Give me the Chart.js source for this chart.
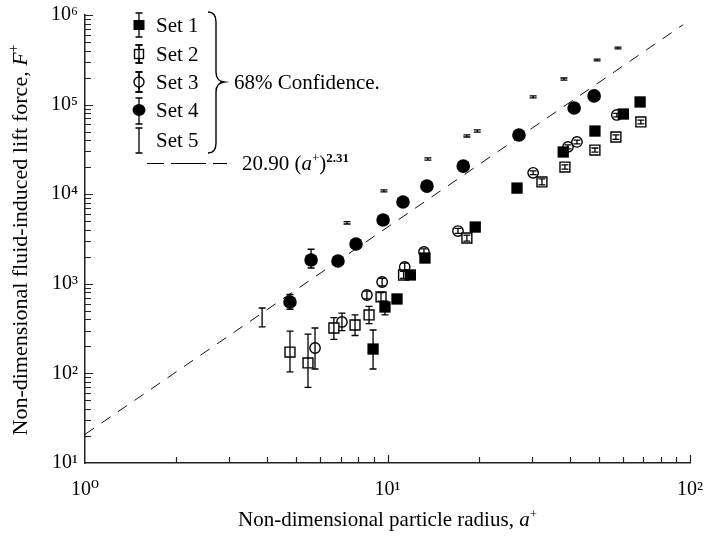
<!DOCTYPE html>
<html>
<head>
<meta charset="utf-8">
<script src="https://cdn.jsdelivr.net/npm/chart.js@4.4.1/dist/chart.umd.min.js"></script>
<style>
  html, body { margin: 0; padding: 0; background: #fff; }
  #wrap { width: 709px; height: 536px; }
</style>
</head>
<body>
<div id="wrap"><canvas id="chart-lift" width="709" height="536"></canvas></div>
<script>
// ── Data ─────────────────────────────────────────────────
// Set 1 — filled squares
const set1X  = [8.96, 9.81, 10.75, 11.9, 13.3, 19.5, 26.8, 38.1, 48.5, 60.2, 68.4];
const set1Y  = [187, 551, 677, 1254, 1940, 4300, 11700, 29600, 50700, 78500, 107000];
const set1Lo = [112, 449, 620, 1150, 1800, 4000, 11000, 28000, 48000, 75000, 102000];
const set1Hi = [305, 640, 740, 1380, 2100, 4600, 12400, 31000, 53000, 82000, 112000];

// Set 2 — open squares
const set2X  = [4.76, 5.46, 6.65, 7.81, 8.69, 9.52, 11.3, 18.3, 32.4, 38.6, 48.5, 56.9, 68.8];
const set2Y  = [173, 131, 321, 347, 449, 713, 1254, 3245, 13700, 20100, 31100, 43500, 64000];
const set2Lo = [104, 70, 240, 265, 360, 640, 1150, 3000, 12700, 19000, 29500, 41000, 61000];
const set2Hi = [297, 275, 420, 450, 560, 800, 1380, 3500, 14800, 21300, 32800, 46000, 67000];

// Set 3 — open circles
const set3X  = [5.76, 7.07, 8.55, 9.6, 11.4, 13.2, 17.1, 30.3, 39.5, 42.3, 57.3];
const set3Y  = [192, 375, 750, 1048, 1540, 2265, 3880, 17300, 33700, 38300, 76600];
const set3Lo = [112, 300, 680, 950, 1400, 2100, 3650, 16500, 32000, 36500, 73000];
const set3Hi = [321, 470, 830, 1150, 1700, 2450, 4150, 18200, 35500, 40200, 80000];

// Set 4 — filled circles
const set4X  = [4.76, 5.59, 6.86, 7.87, 9.67, 11.25, 13.5, 17.8, 27.2, 41.4, 48.2];
const set4Y  = [627, 1845, 1795, 2780, 5150, 8180, 12300, 20600, 45800, 91600, 125000];
const set4Lo = [520, 1500, 1700, 2600, 4900, 7800, 11800, 19800, 44000, 88000, 120000];
const set4Hi = [760, 2430, 1900, 2950, 5400, 8600, 12800, 21500, 47800, 95000, 130000];

// Set 5 — error bar only
const set5X  = [3.85, 7.35, 9.73, 13.6, 18.3, 19.8, 30.3, 38.3, 49.3, 57.8];
const set5Y  = [427, 4790, 10900, 24700, 44700, 50700, 122000, 193000, 315000, 428000];
const set5Lo = [330, 4650, 10600, 24000, 43500, 49300, 119000, 188000, 308000, 418000];
const set5Hi = [537, 4930, 11200, 25400, 46000, 52100, 125000, 198000, 322000, 438000];

// Fit line 20.90 (a+)^2.31 — end points
const fitX = [1, 95];
const fitY = [20.9, 780000];

const SERIF = '"Liberation Serif", "DejaVu Serif", serif';
const FS = 21;
const SUP = ['\u2070', '\u00B9', '\u00B2', '\u00B3', '\u2074', '\u2075', '\u2076'];

function pts(xs, ys, lo, hi) {
  return xs.map((x, i) => ({ x: x, y: ys[i], lo: lo[i], hi: hi[i] }));
}

// ── Rich text helper (italic / superscript parts) ────────
function partFont(p, size) {
  const s = p.sup ? Math.round(size * 0.62) : size;
  return (p.i ? 'italic ' : '') + (p.b ? 'bold ' : '') + s + 'px ' + SERIF;
}
function drawRich(ctx, parts, x, y, size, align) {
  let w = 0;
  parts.forEach(p => { ctx.font = partFont(p, size); w += ctx.measureText(p.t).width; });
  let cx = align === 'center' ? x - w / 2 : x;
  ctx.textAlign = 'left';
  ctx.textBaseline = 'alphabetic';
  parts.forEach(p => {
    ctx.font = partFont(p, size);
    ctx.fillText(p.t, cx, y + (p.sup ? -size * 0.4 : 0));
    cx += ctx.measureText(p.t).width;
  });
}

// ── Marker drawing for the legend ────────────────────────
function drawMarker(ctx, kind, x, y) {
  ctx.save();
  ctx.lineWidth = 1.4;
  ctx.strokeStyle = '#000';
  ctx.fillStyle = '#000';
  if (kind === 'fsq') {
    ctx.fillRect(x - 5.5, y - 5, 11, 10);
  } else if (kind === 'osq') {
    ctx.fillStyle = '#fff';
    ctx.fillRect(x - 4.5, y - 4.5, 9, 9);
    ctx.strokeRect(x - 4.5, y - 4.5, 9, 9);
  } else if (kind === 'oci') {
    ctx.fillStyle = '#fff';
    ctx.beginPath(); ctx.arc(x, y, 5, 0, Math.PI * 2); ctx.fill(); ctx.stroke();
  } else if (kind === 'fci') {
    ctx.beginPath(); ctx.ellipse(x, y, 6.5, 6, 0, 0, Math.PI * 2); ctx.fill();
  }
  ctx.restore();
}
function drawBar(ctx, x, y1, y2) {
  ctx.beginPath();
  ctx.moveTo(x, y1); ctx.lineTo(x, y2);
  ctx.moveTo(x - 3.5, y1); ctx.lineTo(x + 3.5, y1);
  ctx.moveTo(x - 3.5, y2); ctx.lineTo(x + 3.5, y2);
  ctx.stroke();
}

// ── Plugins ──────────────────────────────────────────────
const errorBarPlugin = {
  id: 'errorBars',
  afterDatasetsDraw(chart) {
    const { ctx, scales: { x, y } } = chart;
    ctx.save();
    ctx.strokeStyle = '#000';
    ctx.lineWidth = 1.3;
    chart.data.datasets.forEach(ds => {
      if (!ds.errorBars) return;
      ds.data.forEach(p => {
        drawBar(ctx, x.getPixelForValue(p.x), y.getPixelForValue(p.lo), y.getPixelForValue(p.hi));
      });
    });
    ctx.restore();
  }
};

// inward tick marks on both log axes
const innerTicksPlugin = {
  id: 'innerTicks',
  afterDraw(chart) {
    const { ctx, scales: { x, y }, chartArea: area } = chart;
    ctx.save();
    ctx.strokeStyle = '#222';
    ctx.lineWidth = 1.2;
    ctx.beginPath();
    for (let d = 0; d <= 2; d++) {
      for (let m = 1; m <= 9; m++) {
        const v = m * Math.pow(10, d);
        if (v <= 1 || v > 100) continue;
        const px = Math.round(x.getPixelForValue(v)) + 0.5;
        ctx.moveTo(px, area.bottom); ctx.lineTo(px, area.bottom - (m === 1 ? 8 : 6));
      }
    }
    for (let d = 1; d <= 6; d++) {
      for (let m = 1; m <= 9; m++) {
        const v = m * Math.pow(10, d);
        if (v <= 10 || v > 1e6) continue;
        const py = Math.round(y.getPixelForValue(v)) + 0.5;
        ctx.moveTo(area.left, py); ctx.lineTo(area.left + (m === 1 ? 8 : 6), py);
      }
    }
    ctx.stroke();
    ctx.restore();
  }
};

const titlesPlugin = {
  id: 'titles',
  afterDraw(chart) {
    const { ctx, chartArea: area } = chart;
    ctx.save();
    ctx.fillStyle = '#000';
    drawRich(ctx, [
      { t: 'Non-dimensional particle radius, ' },
      { t: 'a', i: true },
      { t: '+', sup: true }
    ], (area.left + area.right) / 2, 526, FS, 'center');

    ctx.translate(27, 240);
    ctx.rotate(-Math.PI / 2);
    drawRich(ctx, [
      { t: 'Non-dimensional fluid-induced lift force, ' },
      { t: 'F', i: true },
      { t: '+', sup: true }
    ], 0, 0, 22, 'center');
    ctx.restore();
  }
};

const legendPlugin = {
  id: 'figLegend',
  afterDraw(chart) {
    const { ctx } = chart;
    const mx = 139;
    const rows = [
      { kind: 'fsq', label: 'Set 1', y: 25, bar: [13, 37] },
      { kind: 'osq', label: 'Set 2', y: 54, bar: [45, 63] },
      { kind: 'oci', label: 'Set 3', y: 82, bar: [72, 92] },
      { kind: 'fci', label: 'Set 4', y: 110, bar: [98, 124] },
      { kind: null,  label: 'Set 5', y: 140, bar: [128, 153] }
    ];
    ctx.save();
    ctx.fillStyle = '#000';
    ctx.strokeStyle = '#000';
    ctx.lineWidth = 1.3;
    rows.forEach(r => {
      drawBar(ctx, mx, r.bar[0], r.bar[1]);
      if (r.kind) drawMarker(ctx, r.kind, mx, r.y);
      if (r.kind === 'osq' || r.kind === 'oci') drawBar(ctx, mx, r.bar[0], r.bar[1]);
      drawRich(ctx, [{ t: r.label }], 156, r.y + 7, FS, 'left');
    });

    // brace
    ctx.lineWidth = 1.4;
    ctx.beginPath();
    ctx.moveTo(208, 12);
    ctx.quadraticCurveTo(216, 12, 216, 22);
    ctx.lineTo(216, 72);
    ctx.quadraticCurveTo(216, 81, 224, 82);
    ctx.quadraticCurveTo(216, 83, 216, 92);
    ctx.lineTo(216, 143);
    ctx.quadraticCurveTo(216, 153, 208, 153);
    ctx.stroke();
    drawRich(ctx, [{ t: '68% Confidence.' }], 234, 89, FS, 'left');

    // fit line sample
    ctx.lineWidth = 1.2;
    ctx.beginPath();
    ctx.moveTo(147, 163.5); ctx.lineTo(164, 163.5);
    ctx.moveTo(171, 163.5); ctx.lineTo(206, 163.5);
    ctx.moveTo(213, 163.5); ctx.lineTo(227, 163.5);
    ctx.stroke();
    drawRich(ctx, [
      { t: '20.90 (' },
      { t: 'a', i: true },
      { t: '+', sup: true },
      { t: ')' },
      { t: '2.31', sup: true, b: true }
    ], 242, 170, FS, 'left');
    ctx.restore();
  }
};

// ── Chart ────────────────────────────────────────────────
const ctx = document.getElementById('chart-lift');

new Chart(ctx, {
  type: 'scatter',
  data: {
    datasets: [
      {
        label: 'fit',
        type: 'line',
        data: fitX.map((x, i) => ({ x: x, y: fitY[i] })),
        borderColor: '#111',
        borderWidth: 1,
        borderDash: [11, 9],
        pointRadius: 0,
        fill: false,
        order: 10
      },
      {
        label: 'Set 5',
        data: pts(set5X, set5Y, set5Lo, set5Hi),
        pointRadius: 0,
        errorBars: true
      },
      {
        label: 'Set 4',
        data: pts(set4X, set4Y, set4Lo, set4Hi),
        pointStyle: 'circle',
        pointRadius: 6.8,
        backgroundColor: '#000',
        borderColor: '#000',
        borderWidth: 0,
        errorBars: true
      },
      {
        label: 'Set 1',
        data: pts(set1X, set1Y, set1Lo, set1Hi),
        pointStyle: 'rect',
        pointRadius: 8,
        backgroundColor: '#000',
        borderColor: '#000',
        borderWidth: 0,
        errorBars: true
      },
      {
        label: 'Set 2',
        data: pts(set2X, set2Y, set2Lo, set2Hi),
        pointStyle: 'rect',
        pointRadius: 7,
        backgroundColor: '#fff',
        borderColor: '#000',
        borderWidth: 1.4,
        errorBars: true
      },
      {
        label: 'Set 3',
        data: pts(set3X, set3Y, set3Lo, set3Hi),
        pointStyle: 'circle',
        pointRadius: 5.2,
        backgroundColor: '#fff',
        borderColor: '#000',
        borderWidth: 1.4,
        errorBars: true
      }
    ]
  },
  plugins: [errorBarPlugin, innerTicksPlugin, titlesPlugin, legendPlugin],
  options: {
    responsive: false,
    animation: false,
    devicePixelRatio: 1,
    layout: { padding: { top: 15, right: 19, left: 0, bottom: 0 } },
    plugins: {
      legend: { display: false },
      tooltip: { enabled: false }
    },
    scales: {
      x: {
        type: 'logarithmic',
        min: 1,
        max: 100,
        afterFit: s => { s.height = 73; s.paddingLeft = 0; s.paddingRight = 0; },
        grid: { display: false, drawTicks: false },
        border: { display: true, color: '#222', width: 1.5 },
        ticks: {
          autoSkip: false,
          maxRotation: 0,
          padding: 15,
          color: '#000',
          font: { family: SERIF, size: 20 },
          callback: v => {
            const e = Math.log10(v);
            return Math.abs(e - Math.round(e)) < 1e-9 ? '10' + SUP[Math.round(e)] : '';
          }
        }
      },
      y: {
        type: 'logarithmic',
        min: 10,
        max: 1e6,
        afterFit: s => { s.width = 85; s.paddingTop = 0; s.paddingBottom = 0; },
        grid: { display: false, drawTicks: false },
        border: { display: true, color: '#222', width: 1.5 },
        ticks: {
          autoSkip: false,
          padding: 7,
          color: '#000',
          font: { family: SERIF, size: 20 },
          callback: v => {
            const e = Math.log10(v);
            return Math.abs(e - Math.round(e)) < 1e-9 ? '10' + SUP[Math.round(e)] : '';
          }
        }
      }
    }
  }
});
</script>
</body>
</html>
